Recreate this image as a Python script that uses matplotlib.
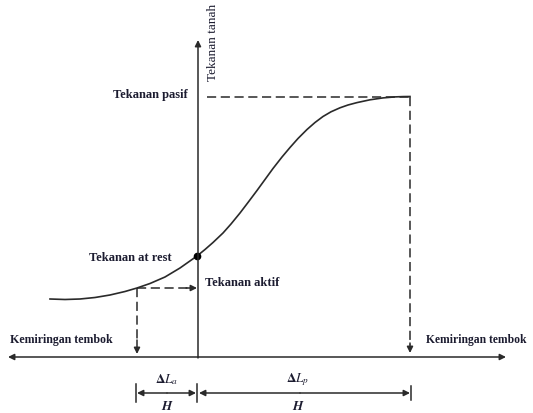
import matplotlib
matplotlib.use("Agg")
from matplotlib import pyplot as plt

# curve of earth pressure vs wall tilt (pixel units)
curve_x = [50, 65, 80, 95, 110, 125, 137, 150, 165, 180, 197, 205, 213, 223, 231,
           240, 248, 257, 265, 273, 282, 290, 298, 307, 315, 323, 331, 340, 348,
           357, 370, 383, 395, 403, 410]
curve_y = [299, 299.5, 299, 297.5, 295, 291.5, 288, 283.5, 277, 268, 256, 249.5,
           242.5, 233, 224, 213, 202.5, 190.5, 179.5, 168.5, 157, 147.5, 138.5,
           129.5, 122.5, 116.5, 111.8, 107.8, 105, 102.6, 99.8, 97.9, 96.9, 96.6,
           96.5]

at_rest = (197, 256)
aktif = (137, 288)
pasif = (410, 96.5)

labels = {
    "pasif": "Tekanan pasif",
    "rest": "Tekanan at rest",
    "aktif": "Tekanan aktif",
    "tanah": "Tekanan tanah",
    "tilt": "Kemiringan tembok",
}

plt.rcParams["font.family"] = ["Liberation Serif", "DejaVu Serif"]
plt.rcParams["mathtext.fontset"] = "stix"

fig = plt.figure(figsize=(5.33, 4.13), dpi=100)
ax = fig.add_axes([0, 0, 1, 1])
ax.set_xlim(0, 533)
ax.set_ylim(413, 0)
ax.axis("off")

line_c = "#2a2a2a"
text_c = "#1c1c30"
dash = (0, (6, 3))


def arrow(x0, y0, x1, y1, style="-|>", ls="-"):
    ax.annotate("", xy=(x1, y1), xytext=(x0, y0),
                arrowprops=dict(arrowstyle=style, color=line_c, lw=1.1,
                                linestyle=ls, mutation_scale=9,
                                shrinkA=0, shrinkB=0))


# axes
arrow(198, 358, 198, 40)
arrow(198, 357, 8, 357)
arrow(198, 357, 506, 357)

# curve
ax.plot(curve_x, curve_y, color=line_c, lw=1.2, solid_joinstyle="round")
ax.plot(*at_rest, "o", color="black", ms=4.5)

# passive dashed guides
ax.plot([207, pasif[0]], [pasif[1], pasif[1]], color=line_c, lw=1.1, ls=dash)
ax.plot([pasif[0], pasif[0]], [pasif[1], 345], color=line_c, lw=1.1, ls=dash)
arrow(pasif[0], 343, pasif[0], 353)

# active dashed guides
ax.plot([aktif[0], 188], [aktif[1], aktif[1]], color=line_c, lw=1.1, ls=dash)
arrow(186, aktif[1], 197, aktif[1])
ax.plot([aktif[0], aktif[0]], [aktif[1], 342], color=line_c, lw=1.1, ls=dash)
arrow(aktif[0], 340, aktif[0], 354)

# labels
fs = 9
ax.text(188, 95, labels["pasif"], ha="right", va="center", fontsize=fs,
        fontweight="bold", color=text_c)
ax.text(172, 258, labels["rest"], ha="right", va="center", fontsize=fs,
        fontweight="bold", color=text_c)
ax.text(205, 283, labels["aktif"], ha="left", va="center", fontsize=fs,
        fontweight="bold", color=text_c)
ax.text(213, 42, labels["tanah"], ha="center", va="center", rotation=90,
        fontsize=fs + 0.5, color=text_c)
ax.text(10, 340, labels["tilt"], ha="left", va="center", fontsize=8.6,
        fontweight="bold", color=text_c)
ax.text(527, 340, labels["tilt"], ha="right", va="center", fontsize=8.4,
        fontweight="bold", color=text_c)

# dimension lines
for x, y0, y1 in [(136, 384, 402), (197, 384, 402), (411, 386, 400)]:
    ax.plot([x, x], [y0, y1], color=line_c, lw=1.1)
arrow(167, 393, 137, 393)
arrow(167, 393, 196, 393)
arrow(300, 393, 199, 393)
arrow(300, 393, 410, 393)

ax.text(167, 380, r"$\mathbf{\Delta}\boldsymbol{L_a}$", ha="center", va="center",
        fontsize=9.5, color=text_c)
ax.text(167, 407, r"$\boldsymbol{H}$", ha="center", va="center", fontsize=9.5,
        color=text_c)
ax.text(298, 380, r"$\mathbf{\Delta}\boldsymbol{L_p}$", ha="center", va="center",
        fontsize=9.5, color=text_c)
ax.text(298, 407, r"$\boldsymbol{H}$", ha="center", va="center", fontsize=9.5,
        color=text_c)

fig.savefig("out.png", dpi=100, facecolor="white")
